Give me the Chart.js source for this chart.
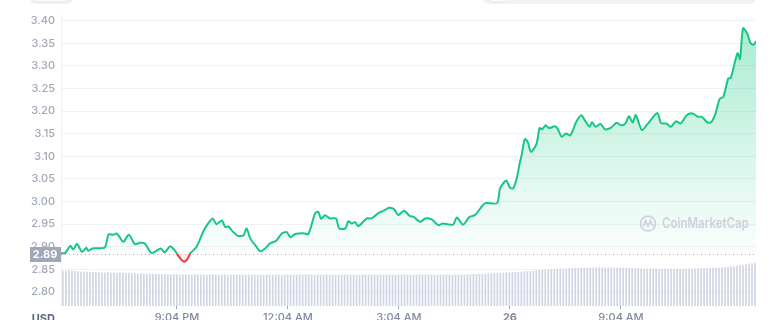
<!DOCTYPE html>
<html>
<head>
<meta charset="utf-8">
<script src="https://cdn.jsdelivr.net/npm/chart.js@4"></script>
<style>
  html, body { margin: 0; padding: 0; background: #fff; overflow: hidden; }
  #wrap { position: relative; width: 775px; height: 320px; }
  .tab { position: absolute; top: -8px; height: 12px; background: #eff2f5; border-radius: 6px; }
  .pill { position: absolute; top: -8px; height: 10px; background: #fff; border-radius: 5px; border: 1px solid #e6e9ee; box-sizing: border-box; }
</style>
</head>
<body>
<div id="wrap">
  <canvas id="priceChart"></canvas>
  <div class="tab" style="left:30px;width:43px"></div>
  <div class="pill" style="left:32px;width:37px"></div>
  <div class="tab" style="left:483px;width:273px"></div>
  <div class="pill" style="left:488px;width:22px"></div>
</div>
<script>
// minutes since 5:56 PM
const minutes = [0,7,15,20,26,34,41,44,51,71,77,85,90,94,101,110,120,128,136,146,152,162,168,177,184,189,195,200,205,210,
  220,231,239,246,252,261,266,272,278,287,296,301,307,315,323,331,339,349,358,366,372,380,393,401,412,417,422,428,436,446,
  451,461,466,471,477,482,496,504,515,523,532,540,547,556,566,572,582,591,601,612,619,628,636,642,652,662,671,680,688,707,
  712,722,728,733,739,744,747,752,757,762,771,776,780,786,791,801,805,812,819,826,836,844,850,857,861,867,875,882,892,901,
  908,915,921,927,932,942,952,967,973,982,989,997,1005,1015,1024,1033,1039,1048,1054,1061,1068,1074,1082,1086,1097,1101,
  1106,1113,1118,1123,1127];

const prices = [2.8852,2.8865,2.9020,2.8940,2.9064,2.8887,2.8976,2.8909,2.8962,2.8985,2.9272,2.9263,2.9294,2.9235,2.9108,
  2.9263,2.9058,2.9086,2.9073,2.8865,2.8887,2.8962,2.8874,2.9013,2.8925,2.8825,2.8715,2.8670,2.8726,2.8858,2.9002,2.9345,
  2.9522,2.9626,2.9500,2.9582,2.9440,2.9445,2.9345,2.9241,2.9252,2.9405,2.9179,2.9035,2.8903,2.8962,2.9073,2.9131,2.9294,
  2.9323,2.9212,2.9283,2.9301,2.9279,2.9737,2.9772,2.9617,2.9699,2.9626,2.9626,2.9405,2.9405,2.9566,2.9515,2.9544,2.9456,
  2.9626,2.9626,2.9750,2.9794,2.9861,2.9832,2.9699,2.9794,2.9677,2.9662,2.9551,2.9626,2.9604,2.9478,2.9515,2.9493,2.9489,
  2.9648,2.9489,2.9655,2.9699,2.9847,2.9965,2.9965,3.0290,3.0467,3.0308,3.0290,3.0511,3.0856,3.1027,3.1381,3.1314,3.1100,
  3.1270,3.1624,3.1595,3.1684,3.1624,3.1662,3.1617,3.1431,3.1502,3.1462,3.1774,3.1905,3.1783,3.1653,3.1750,3.1653,3.1717,
  3.1597,3.1635,3.1741,3.1684,3.1723,3.1883,3.1746,3.1912,3.1580,3.1728,3.1956,3.1735,3.1721,3.1653,3.1772,3.1728,3.1912,
  3.1949,3.1874,3.1874,3.1752,3.1752,3.1934,3.2265,3.2316,3.2723,3.2730,3.3277,3.3150,3.3830,3.3708,3.3504,3.3467,3.3542];

// 24h volume, millions USD
const volumes = [420,418,424,420,416,414,408,410,406,402,406,402,400,
  396,398,402,396,394,390,396,394,390,392,388,390,384,388,384,382,386,382,380,378,
  378,376,378,374,376,378,374,372,376,374,372,378,374,372,376,372,374,378,376,372,374,376,372,370,374,376,372,374,372,370,374,
  372,370,374,372,376,372,370,372,374,370,372,376,374,372,370,374,372,376,378,374,372,374,370,372,376,374,372,370,372,374,
  376,372,370,374,372,370,374,376,372,374,372,370,374,372,376,374,372,370,372,374,376,372,374,370,372,374,372,376,374,372,
  370,374,372,374,376,372,370,374,372,376,374,378,376,380,378,382,380,
  384,386,388,390,392,394,396,398,400,402,404,406,408,
  410,414,418,420,424,428,430,
  434,436,438,440,442,444,446,446,448,450,452,452,454,
  456,456,458,456,458,460,458,458,460,458,456,458,456,456,454,452,
  450,448,446,446,444,444,442,444,442,440,442,440,440,442,440,442,440,442,444,442,444,446,446,448,
  448,450,452,454,456,458,462,464,468,472,476,480,486,492,498,504,510,516];

const openPrice = 2.8836;
const openLabel = '2.89';
const yTicks = [2.80,2.85,2.90,2.95,3.00,3.05,3.10,3.15,3.20,3.25,3.30,3.35,3.40];
const xTickMinutes = [188,368,548,728,908];
const xTickLabels = ['9:04 PM','12:04 AM','3:04 AM','26','9:04 AM'];

const GREEN = '#16c784';
const RED = '#ea3943';

function splitStop(chart) {
  const {chartArea, scales} = chart;
  const yb = scales.y.getPixelForValue(openPrice);
  return Math.min(1, Math.max(0, (yb - chartArea.top) / (chartArea.bottom - chartArea.top)));
}

const overlay = {
  id: 'overlay',
  beforeDatasetsDraw(chart) {
    const {ctx, chartArea, scales} = chart;
    const y = Math.round(scales.y.getPixelForValue(openPrice)) + 0.5;
    ctx.save();
    ctx.strokeStyle = '#a7adbf';
    ctx.lineWidth = 1;
    ctx.setLineDash([1, 3]);
    ctx.beginPath();
    ctx.moveTo(chartArea.left, y);
    ctx.lineTo(chartArea.right, y);
    ctx.stroke();
    ctx.restore();
  },
  afterDatasetsDraw(chart) {
    const {ctx} = chart;
    // watermark
    ctx.save();
    ctx.strokeStyle = '#cdd1dc';
    ctx.lineWidth = 1.6;
    ctx.beginPath();
    ctx.arc(648, 223.5, 7.5, 0, Math.PI * 2);
    ctx.stroke();
    ctx.beginPath();
    ctx.moveTo(643.5, 226.5);
    ctx.lineTo(645.5, 220.5);
    ctx.lineTo(648, 226);
    ctx.lineTo(650.5, 220.5);
    ctx.quadraticCurveTo(651.5, 226.5, 654, 225);
    ctx.stroke();
    ctx.fillStyle = '#cdd1dc';
    ctx.font = '600 14px Inter';
    ctx.textBaseline = 'middle';
    ctx.translate(662, 224);
    ctx.scale(0.82, 1);
    ctx.fillText('CoinMarketCap', 0, 0);
    ctx.restore();
  },
  afterDraw(chart) {
    const {ctx, chartArea, scales} = chart;
    const y = scales.y.getPixelForValue(openPrice);
    ctx.save();
    ctx.fillStyle = '#a1a7bb';
    ctx.fillRect(30, Math.round(y) - 7, chartArea.left - 30, 15);
    ctx.fillStyle = '#ffffff';
    ctx.font = 'bold 11px Inter';
    ctx.textAlign = 'center';
    ctx.textBaseline = 'middle';
    ctx.fillText(openLabel, 45, Math.round(y) + 0.5);
    ctx.fillStyle = '#58667e';
    ctx.textAlign = 'right';
    ctx.textBaseline = 'top';
    ctx.fillText('USD', 55, 313);
    ctx.restore();
  }
};

new Chart(document.getElementById('priceChart'), {
  data: {
    datasets: [{
      type: 'line',
      data: minutes.map((m, i) => ({x: m, y: prices[i]})),
      xAxisID: 'x',
      yAxisID: 'y',
      borderWidth: 2,
      pointRadius: 0,
      tension: 0.25,
      borderJoinStyle: 'round',
      borderColor: (c) => {
        const chart = c.chart;
        if (!chart.chartArea) return GREEN;
        const {chartArea} = chart;
        const s = splitStop(chart);
        const g = chart.ctx.createLinearGradient(0, chartArea.top, 0, chartArea.bottom);
        g.addColorStop(0, GREEN);
        g.addColorStop(s, GREEN);
        g.addColorStop(s, RED);
        g.addColorStop(1, RED);
        return g;
      },
      backgroundColor: (c) => {
        const chart = c.chart;
        if (!chart.chartArea) return 'rgba(22,199,132,0.1)';
        const {chartArea} = chart;
        const s = splitStop(chart);
        const g = chart.ctx.createLinearGradient(0, chartArea.top, 0, chartArea.bottom);
        g.addColorStop(0, 'rgba(22,199,132,0.38)');
        g.addColorStop(s, 'rgba(22,199,132,0.02)');
        g.addColorStop(s, 'rgba(234,57,67,0.08)');
        g.addColorStop(1, 'rgba(234,57,67,0.08)');
        return g;
      },
      fill: {target: {value: openPrice}},
      order: 0
    }, {
      type: 'bar',
      data: volumes,
      xAxisID: 'xv',
      yAxisID: 'yv',
      backgroundColor: '#d0d5e3',
      barThickness: 1,
      order: 1
    }],
    labels: volumes.map((v, i) => i)
  },
  options: {
    responsive: true,
    maintainAspectRatio: false,
    animation: false,
    layout: {padding: {top: 14, right: 19, left: 0, bottom: 0}},
    plugins: {legend: {display: false}, tooltip: {enabled: false}},
    scales: {
      x: {
        type: 'linear',
        min: 0,
        max: 1127,
        afterFit: (s) => { s.height = 14; },
        afterBuildTicks: (s) => { s.ticks = xTickMinutes.map(v => ({value: v})); },
        grid: {drawOnChartArea: false, drawTicks: true, tickLength: 3, color: '#9aa2b5'},
        border: {display: false},
        ticks: {
          autoSkip: false,
          maxRotation: 0,
          padding: 2,
          color: '#808a9d',
          font: (c) => ({family: 'Inter', size: 11, weight: c.index === 3 ? 'bold' : '500'}),
          callback: (v, i) => xTickLabels[i]
        }
      },
      y: {
        min: 2.769,
        max: 3.4146,
        afterFit: (s) => { s.width = 61; },
        afterBuildTicks: (s) => { s.ticks = yTicks.map(v => ({value: v})); },
        grid: {color: '#eff2f5', drawTicks: false},
        border: {display: true, color: '#eff2f5'},
        ticks: {
          padding: 6,
          color: '#a1a7bb',
          font: {family: 'Inter', size: 11, weight: '500'},
          callback: (v) => v.toFixed(2)
        }
      },
      xv: {type: 'category', display: false, offset: true},
      yv: {display: false, min: 0, max: 3504}
    }
  },
  plugins: [overlay]
});
</script>
</body>
</html>
